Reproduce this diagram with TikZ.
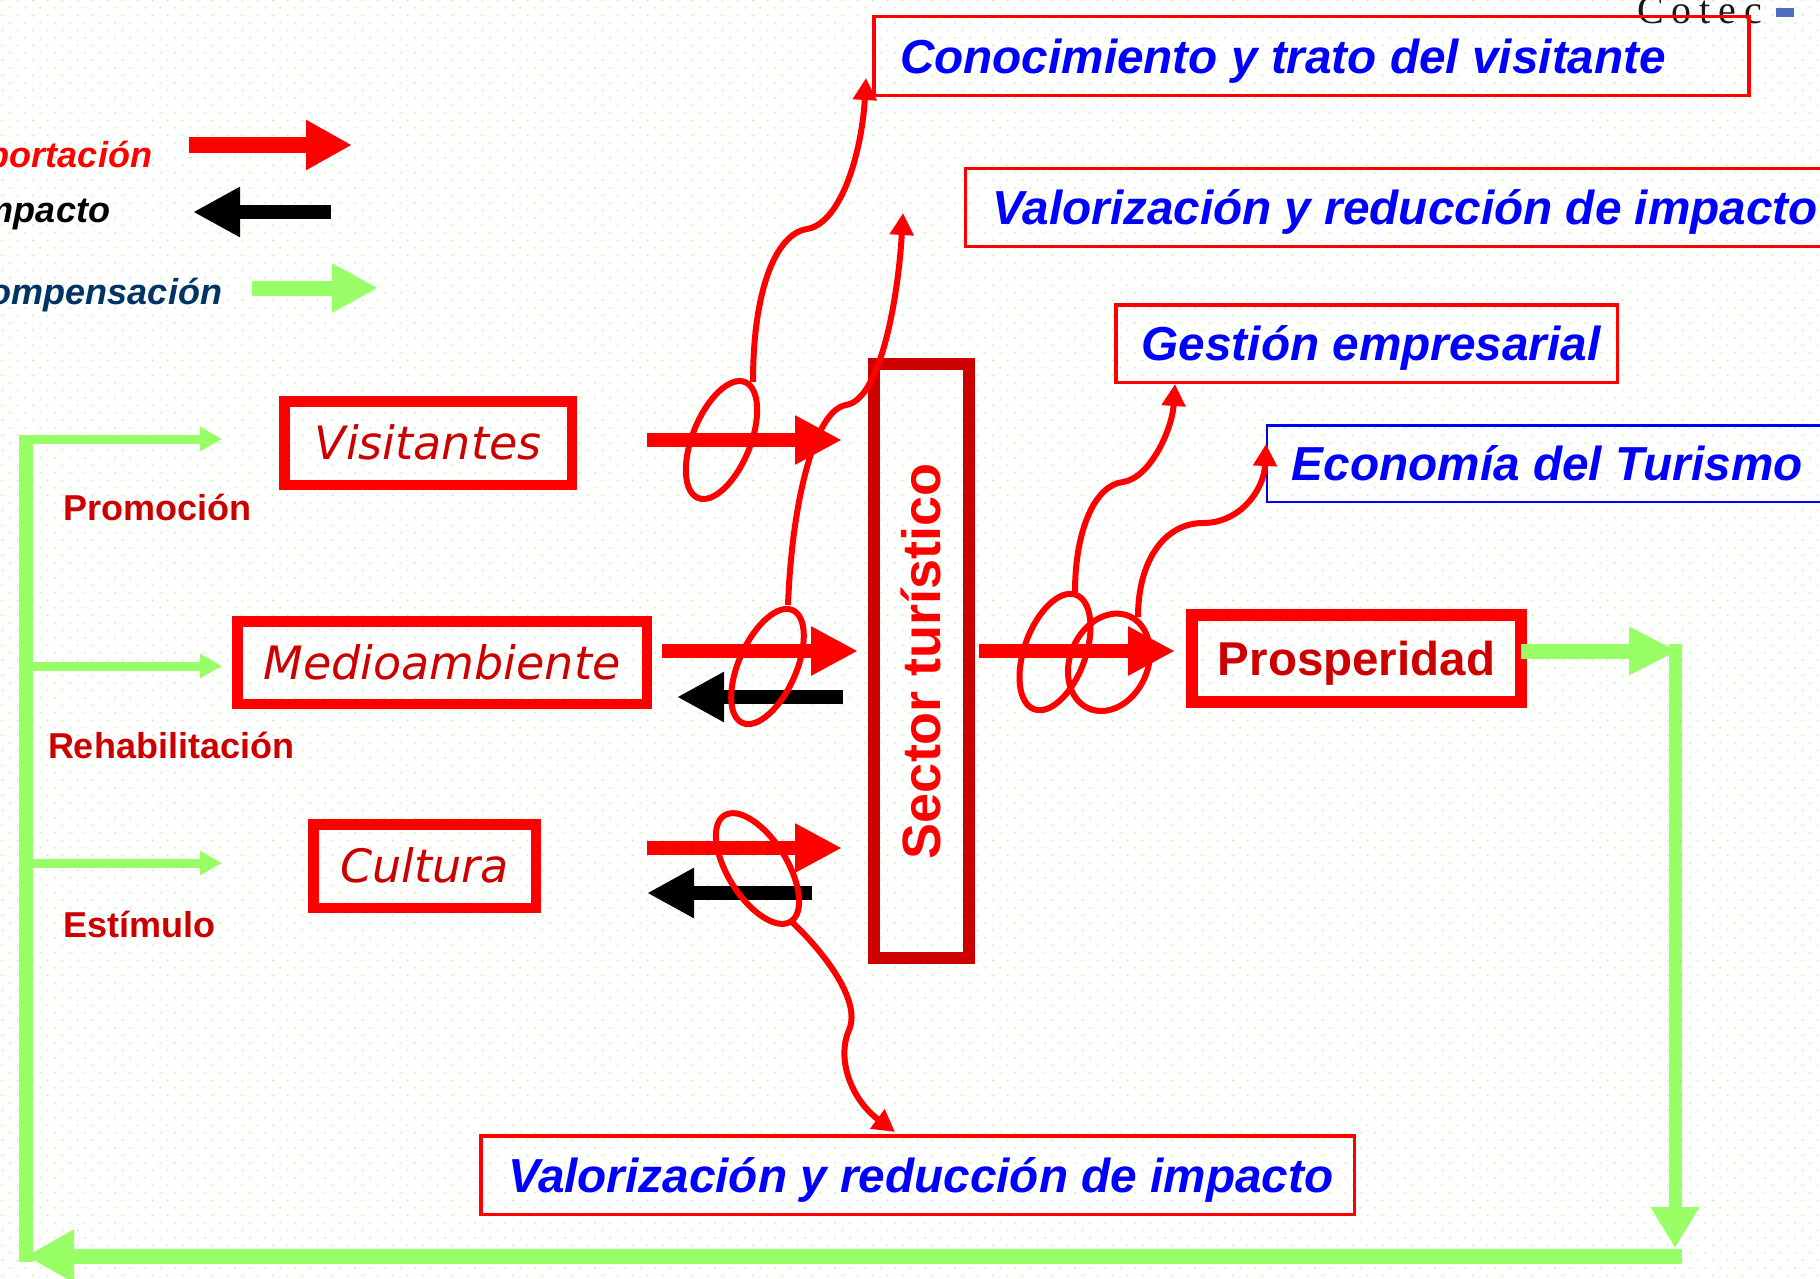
\documentclass[tikz,border=0pt]{standalone}
\usepackage{fontspec}
\setmainfont{Liberation Sans}
\newfontfamily\dvsfont{DejaVu Sans}
\newfontfamily\cotecfont[LetterSpace=20]{Liberation Serif}
\usetikzlibrary{arrows.meta,patterns.meta}
\definecolor{pred}{RGB}{255,0,0}
\definecolor{dred}{RGB}{204,0,0}
\definecolor{pblue}{RGB}{0,0,255}
\definecolor{lgreen}{RGB}{153,255,102}
\definecolor{navy}{RGB}{0,51,102}
\definecolor{dotgreen}{RGB}{165,250,125}
\definecolor{logoblue}{RGB}{80,110,190}
\tikzdeclarepattern{
  name=gdots,
  type=colored,
  bounding box={(0pt,0pt) and (15.4pt,15.4pt)},
  tile size={(15.4pt,15.4pt)},
  code={
    \fill[dotgreen] (3.85pt,3.85pt) circle (0.85pt);
    \fill[dotgreen] (11.55pt,11.55pt) circle (0.85pt);
  }
}
\begin{document}
\begin{tikzpicture}[x=1pt,y=-1pt,
  every node/.style={inner sep=0pt, outer sep=0pt},
  catlbl/.style={anchor=base west, font=\bfseries\fontsize{36}{40}\selectfont, text=dred},
  legendlbl/.style={anchor=base east, font=\bfseries\itshape\fontsize{36}{40}\selectfont},
  mainbox/.style={draw=pred, line width=10.5pt, text height=33.5pt, text depth=0pt,
     font=\dvsfont\itshape\fontsize{46}{50}\selectfont, text=dred},
  infobox/.style={draw=pred, line width=3.5pt, inner ysep=0pt, text height=34.2pt, text depth=0pt,
     font=\bfseries\itshape\fontsize{47.7}{52}\selectfont, text=pblue},
  redflow/.style={draw=pred, line width=14.5pt, -{Triangle[length=47pt,width=46pt]}},
  blackflow/.style={draw=black, line width=14pt, -{Triangle[length=47pt,width=47pt]}},
  greenflow/.style={draw=lgreen, line width=15pt},
  greenbranch/.style={draw=lgreen, line width=9pt, -{Triangle[length=22pt,width=23pt]}},
  ring/.style={draw=pred, line width=6pt},
  link/.style={draw=pred, line width=6pt, -{Triangle[length=22pt,width=23pt]}}
]
\useasboundingbox (0,0) rectangle (1820,1278);
\clip (0,0) rectangle (1820,1278);
\fill[white] (0,0) rectangle (1820,1278);
\fill[pattern=gdots] (0,0) rectangle (1820,1278);

% logo
\node[anchor=base west, font=\cotecfont\fontsize{40}{44}\selectfont, text=black!90] (cotec) at (1637,23) {Cotec};
\fill[logoblue] (1776,8) rectangle (1794,17);

% legend
\node[legendlbl, text=pred] (lgAt) at (152,167) {Aportación};
\node[legendlbl, text=black] (lgIt) at (110,222) {Impacto};
\node[legendlbl, text=navy] (lgCt) at (222,304) {Compensación};
\coordinate (lgA1) at (189,145); \coordinate (lgA2) at (352,145);
\coordinate (lgI1) at (331,212); \coordinate (lgI2) at (193,212);
\coordinate (lgC1) at (252,288); \coordinate (lgC2) at (378,288);
\draw[draw=pred, line width=15.5pt, -{Triangle[length=46pt,width=47pt]}] (lgA1) -- (lgA2);
\draw[draw=black, line width=13.5pt, -{Triangle[length=47pt,width=47pt]}] (lgI1) -- (lgI2);
\draw[draw=lgreen, line width=15pt, -{Triangle[length=46pt,width=46pt]}] (lgC1) -- (lgC2);

% main boxes
\node[mainbox, minimum width=287.5pt, minimum height=83.5pt] (vis) at (428,443) {Visitantes};
\node[mainbox, minimum width=409.5pt, minimum height=82.5pt] (med) at (442,662.5) {Medioambiente};
\node[mainbox, minimum width=222.5pt, minimum height=83.5pt] (cul) at (424.5,866) {Cultura};
\node[draw=pred, line width=12pt, minimum width=329pt, minimum height=87pt, text height=34pt, text depth=0pt,
      font=\bfseries\fontsize{47.5}{52}\selectfont, text=dred] (prosp) at (1356.5,658.5) {Prosperidad};
\node[draw=dred, line width=12pt, rotate=90, minimum width=594pt, minimum height=95pt,
      text height=38.7pt, text depth=0pt, font=\bfseries\fontsize{54}{60}\selectfont, text=pred]
      (sector) at (921.5,661) {Sector turístico};

% category labels
\node[catlbl] (promo) at (63,520) {Promoción};
\node[catlbl] (rehab) at (48,758) {Rehabilitación};
\node[catlbl] (estim) at (63,937) {Estímulo};

% info boxes
\node[infobox, minimum width=875pt, minimum height=79pt, inner xsep=26pt] (conoc) at (1311.5,56)
   {\makebox[823pt][l]{Conocimiento y trato del visitante}};
\node[infobox, minimum width=914.5pt, minimum height=78pt, inner xsep=27pt] (valtop) at (1422.75,207.5)
   {\makebox[860.5pt][l]{Valorización y reducción de impacto}};
\node[infobox, minimum width=501.5pt, minimum height=77.5pt, inner xsep=26pt] (gest) at (1366.5,343.5)
   {\makebox[449.5pt][l]{Gestión empresarial}};
\node[infobox, draw=pblue, line width=2.5pt, minimum width=612.75pt, minimum height=76.5pt, inner xsep=24.75pt] (econ) at (1573.6,463.5)
   {\makebox[563.25pt][l]{Economía del Turismo}};
\node[infobox, minimum width=873.5pt, minimum height=78.5pt, inner xsep=27.25pt] (valbot) at (917.5,1175)
   {\makebox[819pt][l]{Valorización y reducción de impacto}};

% green compensation loop
\coordinate (gS) at (prosp.east |- 0,651);
\coordinate (gP) at (1678,651);
\coordinate (gTop) at (1675,644);
\coordinate (gBot) at (1675,1248);
\coordinate (gBR) at (1681.5,1256);
\coordinate (gBL) at (26,1256);
\coordinate (gLB) at (26,1262);
\coordinate (gLT) at (26,434.5);
\draw[greenflow, -{Triangle[length=49pt,width=45pt]}] (gS) -- (gP);
\draw[draw=lgreen, line width=13pt, -{Triangle[length=41pt,width=46pt]}] (gTop) -- (gBot);
\draw[greenflow, -{Triangle[length=48pt,width=50pt]}] (gBR) -- (gBL);
\draw[draw=lgreen, line width=14pt] (gLB) -- (gLT);
\coordinate (b1s) at (30,439);  \coordinate (b1e) at (222,439);
\coordinate (b2s) at (30,666);  \coordinate (b2e) at (222,666);
\coordinate (b3s) at (30,863);  \coordinate (b3e) at (222,863);
\draw[greenbranch] (b1s) -- (b1e);
\draw[greenbranch] (b2s) -- (b2e);
\draw[greenbranch] (b3s) -- (b3e);

% flows into the sector
\coordinate (v1) at (647,440);  \coordinate (v2) at (842,440);
\coordinate (m1) at (662,651);  \coordinate (m2) at (858,651);
\coordinate (m3) at (843,697);  \coordinate (m4) at (677,697);
\coordinate (c1) at (647,848);  \coordinate (c2) at (842,848);
\coordinate (c3) at (812,893);  \coordinate (c4) at (647,893);
\coordinate (p1) at (979,651);  \coordinate (p2) at (1175,651);
\draw[redflow] (v1) -- (v2);
\draw[redflow] (m1) -- (m2);
\draw[blackflow] (m3) -- (m4);
\draw[redflow] (c1) -- (c2);
\draw[blackflow] (c3) -- (c4);
\draw[redflow] (p1) -- (p2);

% rings
\draw[ring, rotate around={-22:(721.5,440)}] (721.5,440) ellipse (29pt and 62.5pt);
\draw[ring, rotate around={-24:(767.5,666.5)}] (767.5,666.5) ellipse (28.7pt and 61.7pt);
\draw[ring, rotate around={32:(757.5,868.5)}] (757.5,868.5) ellipse (29.6pt and 62.6pt);
\draw[ring, rotate around={-20:(1055,652)}] (1055,652) ellipse (30.6pt and 60.9pt);
\draw[ring, rotate around={-24:(1109,662.3)}] (1109,662.3) ellipse (38.9pt and 50.4pt);

% curved links
\coordinate (kA) at (753,382);
\coordinate (kB) at (788,605);
\coordinate (kC) at (790,920);
\coordinate (kD) at (1075,592);
\coordinate (kE) at (1138,617);
\coordinate (tA) at (866,78);
\coordinate (tB) at (903,213);
\coordinate (tC) at (895,1132);
\coordinate (tD) at (1175,384);
\coordinate (tE) at (1266,444);
\draw[link] (kA) .. controls (753,292) and (775,234) .. (807,229) .. controls (842,223) and (862,150) .. (tA);
\draw[link] (kB) .. controls (792,500) and (815,410) .. (846,405) .. controls (880,400) and (898,300) .. (tB);
\draw[link] (kC) .. controls (822,950) and (862,1000) .. (849,1030) .. controls (836,1060) and (852,1100) .. (tC);
\draw[link] (kD) .. controls (1075,530) and (1095,485) .. (1123,482) .. controls (1150,478) and (1172,430) .. (tD);
\draw[link] (kE) .. controls (1138,560) and (1165,523) .. (1203,523) .. controls (1240,523) and (1264,490) .. (tE);
\end{tikzpicture}
\end{document}
